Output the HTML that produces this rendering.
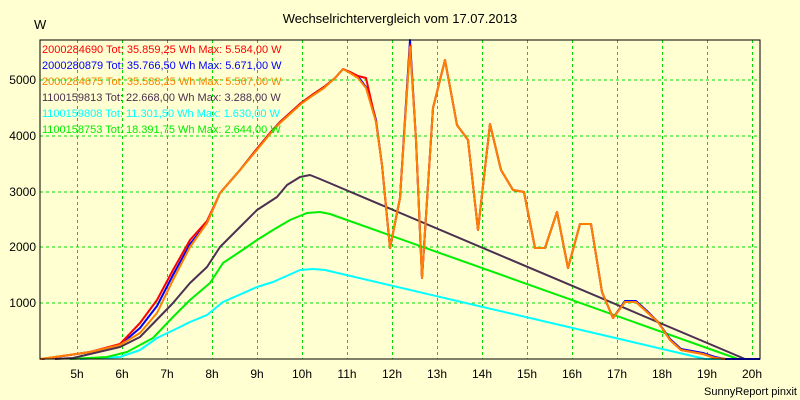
<!DOCTYPE html>
<html><head><meta charset="utf-8"><style>
html,body{margin:0;padding:0;background:#ffffd2}
svg{display:block;font-family:"Liberation Sans",sans-serif}
</style></head><body>
<svg width="800" height="400" viewBox="0 0 800 400" xmlns="http://www.w3.org/2000/svg">
<rect width="800" height="400" fill="#ffffd2"/>
<text x="400" y="23" font-size="13" text-anchor="middle">Wechselrichtervergleich vom 17.07.2013</text>
<text x="34" y="29" font-size="13">W</text>
<g stroke="#00dd00" stroke-dasharray="3,3" stroke-width="1">
<line x1="40" y1="80" x2="760" y2="80"/><line x1="40" y1="136" x2="760" y2="136"/>
<line x1="40" y1="192" x2="760" y2="192"/><line x1="40" y1="247" x2="760" y2="247"/>
<line x1="40" y1="303" x2="760" y2="303"/>
<line x1="77.5" y1="40" x2="77.5" y2="359"/><line x1="122.5" y1="40" x2="122.5" y2="359"/>
<line x1="167.5" y1="40" x2="167.5" y2="359"/><line x1="212.5" y1="40" x2="212.5" y2="359"/>
<line x1="257.5" y1="40" x2="257.5" y2="359"/><line x1="302.5" y1="40" x2="302.5" y2="359"/>
<line x1="347.5" y1="40" x2="347.5" y2="359"/><line x1="392.5" y1="40" x2="392.5" y2="359"/>
<line x1="437.5" y1="40" x2="437.5" y2="359"/><line x1="482.5" y1="40" x2="482.5" y2="359"/>
<line x1="527.5" y1="40" x2="527.5" y2="359"/><line x1="572.5" y1="40" x2="572.5" y2="359"/>
<line x1="617.5" y1="40" x2="617.5" y2="359"/><line x1="662.5" y1="40" x2="662.5" y2="359"/>
<line x1="707.5" y1="40" x2="707.5" y2="359"/><line x1="752.5" y1="40" x2="752.5" y2="359"/>
</g>
<g font-size="12" text-anchor="end">
<text x="36" y="84">5000</text><text x="36" y="140">4000</text><text x="36" y="196">3000</text>
<text x="36" y="251">2000</text><text x="36" y="307">1000</text>
</g>
<g font-size="12" text-anchor="middle">
<text x="77" y="378">5h</text><text x="122" y="378">6h</text><text x="167" y="378">7h</text>
<text x="212" y="378">8h</text><text x="257" y="378">9h</text><text x="302" y="378">10h</text>
<text x="347" y="378">11h</text><text x="392" y="378">12h</text><text x="437" y="378">13h</text>
<text x="482" y="378">14h</text><text x="527" y="378">15h</text><text x="572" y="378">16h</text>
<text x="617" y="378">17h</text><text x="662" y="378">18h</text><text x="707" y="378">19h</text>
<text x="752" y="378">20h</text>
</g>
<text x="797" y="395" font-size="11" text-anchor="end">SunnyReport pinxit</text>
<g fill="none" stroke-width="2" stroke-linejoin="round">
<polyline stroke="#00ffff" points="80,359 120,357 140,350 157,338 180,327 190,322 207,315 223,302 257,287 273,282 300,270 313,269 325,270 705,359 760,359"/>
<polyline stroke="#00ee00" points="70,359 107,357 127,352 153,338 173,317 190,300 210,283 223,263 247,247 257,240 273,230 290,220 307,213 320,212 330,214 738,359 760,359"/>
<polyline stroke="#4b3050" points="55,359 73,358 120,347 140,337 173,303 190,283 207,267 220,247 240,227 257,210 277,197 287,185 300,177 310,175 320,179 745,359"/>
<polyline stroke="#0000ff" points="42,359 90,352 120,345 140,328 157,306 173,275 190,244 207,223 220,193 240,170 256,150 270,133 280,122 290,113 301,103 312,95 324,87 335,78 343,69 352,73 360,79 368,90 376,120 382,165 390,248 400,198 410,40 416,140 422,278 433,108 445,60 457,125 468,140 478,230 490,124 501,170 513,190 524,192 535,248 545,248 557,212 568,268 580,224 591,224 602,292 613,318 625,301 636,301 647,311 658,322 670,339 681,349 692,351 703,353 715,357 725,359 760,359"/>
<polyline stroke="#ff0000" points="42,359 90,352 120,344 140,323 157,300 173,270 190,240 207,221 220,193 240,170 256,150 270,133 280,122 290,113 301,103 312,95 324,87 335,78 343,69 350,72 358,76 366,78 376,122 382,165 390,248 400,198 410,45 416,140 422,278 433,108 445,60 457,125 468,140 478,230 490,124 501,170 513,190 524,192 535,248 545,248 557,212 568,268 580,224 591,224 602,292 613,318 625,302 636,302 647,312 658,322 670,340 681,350 692,352 703,354 715,358 725,359"/>
<polyline stroke="#ff8000" points="40,359 90,352 120,345 140,333 157,313 173,280 190,247 207,223 220,193 240,170 256,151 270,134 280,123 290,114 301,104 312,96 324,88 335,78 343,69 350,73 358,78 366,88 376,122 382,165 390,248 400,198 410,47 416,140 422,278 433,108 445,60 457,125 468,140 478,230 490,124 501,170 513,190 524,192 535,248 545,248 557,212 568,268 580,224 591,224 602,292 613,318 625,302 636,302 647,312 658,322 670,340 681,350 692,352 703,354 715,358 725,359"/>
</g>
<rect x="40" y="40" width="720" height="319" fill="none" stroke="#000" stroke-width="1"/>
<g font-size="11">
<text x="42" y="53" fill="#ff0000">2000284690 Tot: 35.859,25 Wh Max: 5.584,00 W</text>
<text x="42" y="69" fill="#0000ff">2000280879 Tot: 35.766,50 Wh Max: 5.671,00 W</text>
<text x="42" y="85" fill="#ff8000">2000284675 Tot: 35.588,25 Wh Max: 5.567,00 W</text>
<text x="42" y="101" fill="#4b3050">1100159813 Tot: 22.668,00 Wh Max: 3.288,00 W</text>
<text x="42" y="117" fill="#00ffff">1100159808 Tot: 11.301,50 Wh Max: 1.630,00 W</text>
<text x="42" y="133" fill="#00ee00">1100158753 Tot: 18.391,75 Wh Max: 2.644,00 W</text>
</g>
</svg>
</body></html>
